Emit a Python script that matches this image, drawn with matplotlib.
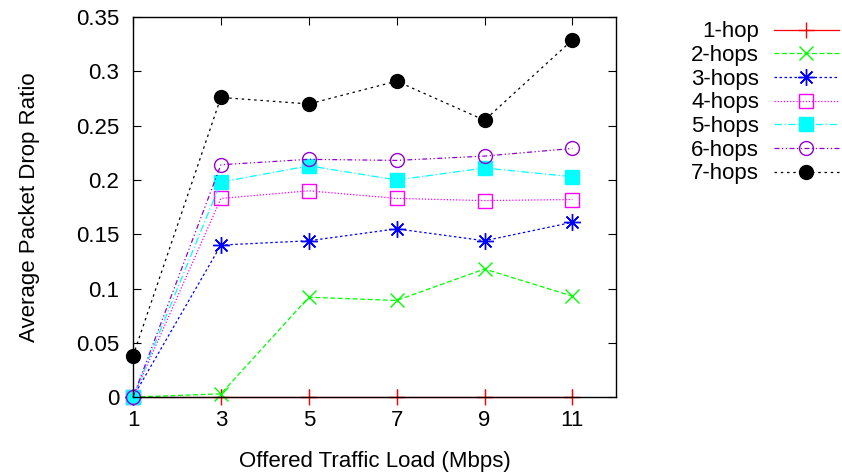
import matplotlib
matplotlib.use("Agg")
import matplotlib.pyplot as plt

# Data
loads = [1, 3, 5, 7, 9, 11]
hop1 = [0, 0, 0, 0, 0, 0]
hop2 = [0, 0.003, 0.092, 0.089, 0.118, 0.093]
hop3 = [0, 0.140, 0.144, 0.155, 0.144, 0.161]
hop4 = [0, 0.183, 0.190, 0.183, 0.181, 0.182]
hop5 = [0, 0.198, 0.213, 0.200, 0.211, 0.203]
hop6 = [0, 0.214, 0.219, 0.218, 0.222, 0.229]
hop7 = [0.038, 0.276, 0.270, 0.291, 0.255, 0.329]
labels = ["1-hop", "2-hops", "3-hops", "4-hops", "5-hops", "6-hops", "7-hops"]

plt.rcParams['font.family'] = ['Liberation Sans', 'DejaVu Sans']

fig = plt.figure(figsize=(8.42, 4.75), dpi=100)
ax = fig.add_axes([0.158, 0.164, 0.574, 0.800])

series = [hop1, hop2, hop3, hop4, hop5, hop6, hop7]
styles = [
    dict(color='#ff0000', ls='-', marker='+', ms=12, mew=1),
    dict(color='#00ff00', ls=(0, (4, 2)), marker='x', ms=10, mew=1),
    dict(color='#0000ff', ls=(0, (2, 2)), marker=(8, 2, 0), ms=12, mew=1),
    dict(color='#ff00ff', ls=(0, (1, 1.5)), marker='s', ms=10, mew=1, mfc='none'),
    dict(color='#00ffff', ls=(0, (6, 2, 1, 2)), marker='s', ms=10, mew=1),
    dict(color='#9400d3', ls=(0, (4, 2, 1, 2, 1, 2)), marker='o', ms=10, mew=1, mfc='none'),
    dict(color='#000000', ls=(0, (2, 3)), marker='o', ms=10, mew=1),
]
for y, lab, st in zip(series, labels, styles):
    ax.plot(loads, y, label=lab, lw=0.9, clip_on=False, **st)

ax.set_xlim(1, 12)
ax.set_ylim(0, 0.35)
ax.set_xticks(loads)
ax.set_xticklabels([str(v) for v in loads])
ax.set_yticks([0, 0.05, 0.1, 0.15, 0.2, 0.25, 0.3, 0.35])
ax.set_yticklabels(['0', '0.05', '0.1', '0.15', '0.2', '0.25', '0.3', '0.35'])
ax.tick_params(direction='in', length=6, width=0.8, top=True, right=True,
               labelsize=16)
ax.tick_params(axis='x', pad=9)
ax.tick_params(axis='y', pad=10)
for sp in ax.spines.values():
    sp.set_linewidth(1)

ax.set_xlabel("Offered Traffic Load (Mbps)", fontsize=16, labelpad=15)
ax.set_ylabel("Average Packet Drop Ratio", fontsize=16, labelpad=26)

ax.legend(loc='upper right', bbox_to_anchor=(0.996, 0.955),
          bbox_transform=fig.transFigure, frameon=False, borderpad=0,
          borderaxespad=0, markerfirst=False, fontsize=16, handlelength=2.9,
          labelspacing=0.12, handletextpad=0.68)

fig.savefig("out.png", dpi=100)
